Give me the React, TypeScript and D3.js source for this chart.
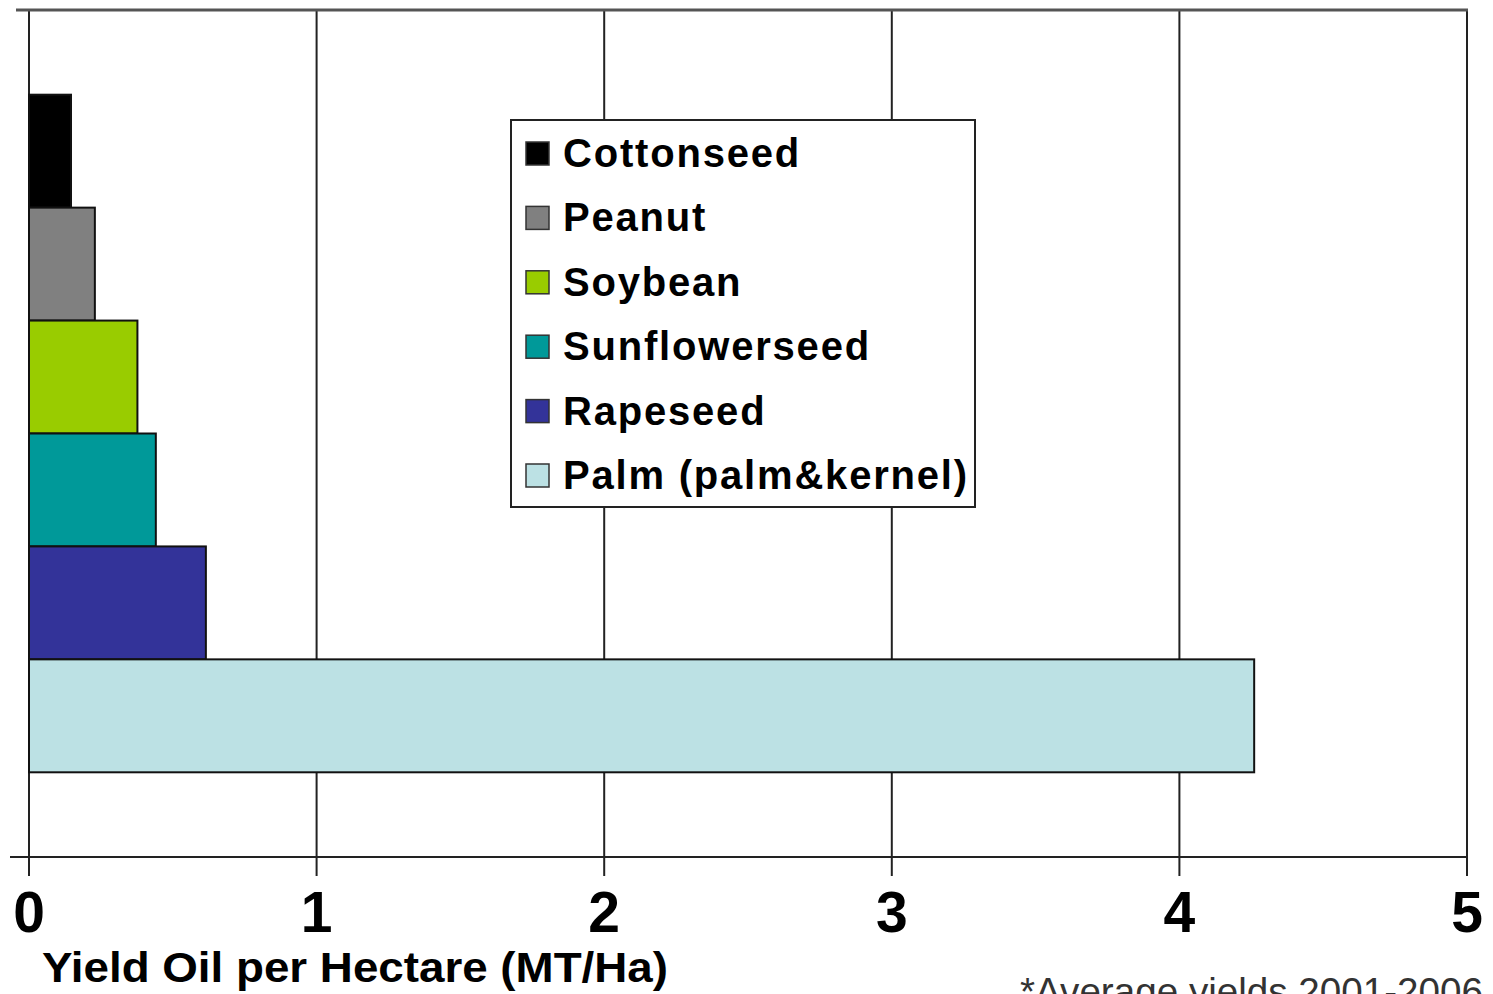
import React, { useEffect, useRef } from "react";
import * as d3 from "d3";

// chart data
const crops = ["Cottonseed", "Peanut", "Soybean", "Sunflowerseed", "Rapeseed", "Palm (palm&kernel)"];
const yields = [0.146, 0.229, 0.377, 0.441, 0.615, 4.26];
const cropColors = ["#000000", "#808080", "#99cc00", "#009999", "#333399", "#bce1e4"];
const xTicks = [0, 1, 2, 3, 4, 5];
const axisTitle = "Yield Oil per Hectare (MT/Ha)";
const footnote = "*Average yields 2001-2006";

const W = 1493;
const H = 994;

const App: React.FC = () => {
  const svgRef = useRef<SVGSVGElement | null>(null);

  useEffect(() => {
    const svg = d3.select(svgRef.current);
    svg.selectAll("*").remove();

    const left = 29;
    const right = 1467;
    const top = 10;
    const bottom = 857;
    const font = "'Liberation Sans', Arial, sans-serif";

    const x = d3.scaleLinear().domain([0, 5]).range([left, right]);
    const y = d3
      .scaleBand<string>()
      .domain(crops)
      .range([top, bottom])
      .paddingInner(0)
      .paddingOuter(0.75);

    svg.append("rect").attr("width", W).attr("height", H).attr("fill", "#fff");

    // vertical gridlines + ticks below the axis
    svg
      .append("g")
      .selectAll("line")
      .data(xTicks)
      .enter()
      .append("line")
      .attr("x1", (d) => x(d))
      .attr("x2", (d) => x(d))
      .attr("y1", top)
      .attr("y2", bottom + 19)
      .attr("stroke", "#222")
      .attr("stroke-width", 2);

    // top border
    svg
      .append("line")
      .attr("x1", 16)
      .attr("x2", right + 1)
      .attr("y1", top)
      .attr("y2", top)
      .attr("stroke", "#555")
      .attr("stroke-width", 3);

    // bottom axis line
    svg
      .append("line")
      .attr("x1", 10)
      .attr("x2", right)
      .attr("y1", bottom)
      .attr("y2", bottom)
      .attr("stroke", "#222")
      .attr("stroke-width", 2);

    // bars
    svg
      .append("g")
      .selectAll("rect")
      .data(crops)
      .enter()
      .append("rect")
      .attr("x", x(0))
      .attr("y", (d) => y(d)!)
      .attr("width", (d, i) => x(yields[i]) - x(0))
      .attr("height", y.bandwidth())
      .attr("fill", (d, i) => cropColors[i])
      .attr("stroke", "#111")
      .attr("stroke-width", 2);

    // tick labels
    svg
      .append("g")
      .selectAll("text")
      .data(xTicks)
      .enter()
      .append("text")
      .attr("x", (d) => x(d))
      .attr("y", 932)
      .attr("text-anchor", "middle")
      .attr("font-family", font)
      .attr("font-weight", "bold")
      .attr("font-size", 57)
      .attr("fill", "#000")
      .text((d) => String(d));

    // axis title
    svg
      .append("text")
      .attr("x", 42)
      .attr("y", 982)
      .attr("font-family", font)
      .attr("font-weight", "bold")
      .attr("font-size", 42)
      .attr("textLength", 626)
      .attr("lengthAdjust", "spacingAndGlyphs")
      .attr("fill", "#000")
      .text(axisTitle);

    // footnote (cut by bottom edge, as in the source)
    svg
      .append("text")
      .attr("x", 1020)
      .attr("y", 1005)
      .attr("font-family", font)
      .attr("font-size", 38)
      .attr("textLength", 463)
      .attr("lengthAdjust", "spacingAndGlyphs")
      .attr("fill", "#333")
      .text(footnote);

    // legend
    const legend = svg.append("g");
    legend
      .append("rect")
      .attr("x", 511)
      .attr("y", 120)
      .attr("width", 464)
      .attr("height", 387)
      .attr("fill", "#fff")
      .attr("stroke", "#222")
      .attr("stroke-width", 2);

    const rowY = d3.scaleLinear().domain([0, crops.length - 1]).range([153, 475]);
    const items = legend
      .selectAll("g.item")
      .data(crops)
      .enter()
      .append("g")
      .attr("class", "item")
      .attr("transform", (d, i) => `translate(0, ${rowY(i)})`);

    items
      .append("rect")
      .attr("x", 526)
      .attr("y", -11)
      .attr("width", 23)
      .attr("height", 23)
      .attr("fill", (d, i) => cropColors[i])
      .attr("stroke", "#333")
      .attr("stroke-width", 1.5);

    items
      .append("text")
      .attr("x", 563)
      .attr("y", 14)
      .attr("font-family", font)
      .attr("font-weight", "bold")
      .attr("font-size", 40)
      .attr("letter-spacing", 1.8)
      .attr("fill", "#000")
      .text((d) => d);
  }, []);

  return (
    <svg
      ref={svgRef}
      width={W}
      height={H}
      style={{ position: "absolute", left: 0, top: 0 }}
    />
  );
};

export default App;
